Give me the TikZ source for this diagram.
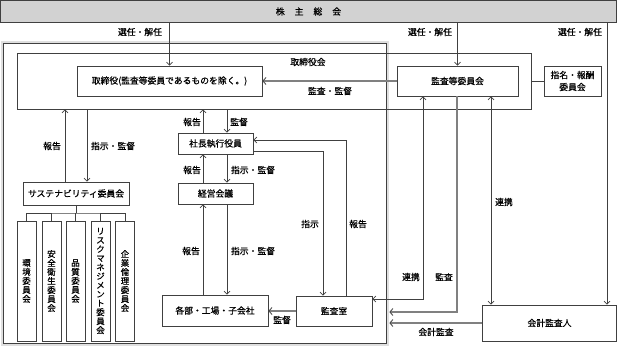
\documentclass[tikz,border=0pt]{standalone}
\usepackage{fontspec}
\setmainfont{Noto Sans CJK JP}[FakeBold=0.6]
\usetikzlibrary{arrows.meta,calc}
\definecolor{linec}{HTML}{404040}
\newcommand\jpf{\fontsize{8.8}{10}\selectfont}
\begin{document}
\begin{tikzpicture}[x=1pt,y=-1pt,
  box/.style={draw=linec, line width=0.8pt, inner sep=0pt, font=\jpf, fill=white},
  vbox/.style={box, minimum width=19pt, minimum height=120pt, text width=10pt, align=center, font=\fontsize{8.5}{9}\selectfont},
  ln/.style={draw=linec, line width=0.7pt},
  arr/.style={ln, -{Straight Barb[length=3pt,width=6pt]}},
  darr/.style={ln, {Straight Barb[length=3pt,width=6pt]}-{Straight Barb[length=3pt,width=6pt]}},
  thk/.style={draw=black!50, line width=2.2pt},
  tarr/.style={thk, -{Straight Barb[length=3pt,width=7pt,line width=0.9pt,color=black!70]}},
  lab/.style={font=\jpf, inner sep=0pt}
]
\useasboundingbox (0,0) rectangle (617,347);

% company double frame
\node[draw=linec, double=gray!25, double distance=1.6pt, line width=0.7pt, minimum width=385.6pt, minimum height=302.6pt, inner sep=0pt] (co) at (195,193.5) {};

% shareholders' meeting
\node[box, fill=gray!35, minimum width=616pt, minimum height=22pt] (sh) at (308.5,11.5) {株\hspace{10pt}主\hspace{10pt}総\hspace{10pt}会};

% board
\node[box, fill=none, minimum width=514pt, minimum height=56pt] (bod) at (274,81) {};
\node[lab] (bodl) at (308,62) {取締役会};
\node[box, minimum width=185pt, minimum height=30pt] (dir) at (169.5,81) {取締役(監査等委員であるものを除く。)};
\node[box, minimum width=121pt, minimum height=30pt] (ac) at (457.5,81) {監査等委員会};
\node[box, minimum width=57pt, minimum height=30pt, align=center, font=\fontsize{8.8}{12}\selectfont] (nom) at (572.5,81) {指名・報酬\\委員会};

% sustainability
\node[box, minimum width=106pt, minimum height=23pt] (sus) at (76,193.5) {サステナビリティ委員会};
\node[vbox] (c1) at (26.5,281) {環\\境\\委\\員\\会};
\node[vbox] (c2) at (51.5,281) {安\\全\\衛\\生\\委\\員\\会};
\node[vbox] (c3) at (75.5,281) {品\\質\\委\\員\\会};
\node[vbox] (c4) at (100.5,281) {リ\\ス\\ク\\マ\\ネ\\ジ\\メ\\ン\\ト\\委\\員\\会};
\node[vbox] (c5) at (125,281) {企\\業\\倫\\理\\委\\員\\会};

% executive line
\node[box, minimum width=75pt, minimum height=21pt] (ceo) at (215.5,143.5) {社長執行役員};
\node[box, minimum width=75pt, minimum height=21pt] (mgm) at (215.5,193.5) {経営会議};
\node[box, minimum width=106pt, minimum height=31pt] (dept) at (215,310.5) {各部・工場・子会社};
\node[box, minimum width=76pt, minimum height=30pt] (iad) at (334,311) {監査室};
\node[box, minimum width=134pt, minimum height=36pt] (aud) at (549.5,323) {会計監査人};

% coordinates for vertical runs
\coordinate (xr) at (607,0);
\coordinate (xa) at (65,0);
\coordinate (xb) at (87,0);
\coordinate (tr) at (76,213);
\coordinate (xu) at (203,0);
\coordinate (xd) at (227,0);
\coordinate (p1) at (323,151);
\coordinate (p2) at (346,140);
\coordinate (p3) at (423,299);
\coordinate (p4) at (457,312);
\coordinate (xc) at (491,0);

% connectors
\draw[arr] (sh.south -| dir.north) -- (dir.north);
\draw[arr] (sh.south -| ac.north) -- (ac.north);
\draw[arr] (sh.south -| xr) -- (aud.north -| xr);
\draw[tarr] (ac.west) -- (dir.east);
\draw[ln] (bod.east) -- (nom.west);

\draw[arr] (sus.north -| xa) -- (bod.south -| xa);
\draw[arr] (bod.south -| xb) -- (sus.north -| xb);
\draw[ln] (sus.south) -- (sus.south |- tr);
\draw[ln] (c1.north) |- (tr) -| (c5.north);
\foreach \c in {c2,c3,c4} \draw[ln] (\c.north) -- (\c.north |- tr);

\draw[arr] (ceo.north -| xu) -- (bod.south -| xu);
\draw[arr] (bod.south -| xd) -- (ceo.north -| xd);
\draw[arr] (mgm.north -| xu) -- (ceo.south -| xu);
\draw[arr] (ceo.south -| xd) -- (mgm.north -| xd);
\draw[arr] (dept.north -| xu) -- (mgm.south -| xu);
\draw[arr] (mgm.south -| xd) -- (dept.north -| xd);
\draw[tarr] (iad.west) -- (iad.west -| dept.east);

\draw[arr] (p1 -| ceo.east) -- (p1) -- (iad.north -| p1);
\draw[arr] (iad.north -| p2) -- (p2) -- (p2 -| ceo.east);

\draw[darr] (ac.south -| p3) -- (p3) -- (p3 -| iad.east);
\draw[tarr] (ac.south -| p4) -- (p4) -- ([xshift=1.2pt]p4 -| co.east);
\draw[darr] (ac.south -| xc) -- (aud.north -| xc);
\draw[tarr] (aud.west) -- ([xshift=1.2pt]aud.west -| co.east);

% labels
\node[lab] (l1) at (140,32) {選任・解任};
\node[lab] (l2) at (430,32) {選任・解任};
\node[lab] (l3) at (580,32) {選任・解任};
\node[lab] (l4) at (330,91) {監査・監督};
\node[lab] (l5) at (52,146) {報告};
\node[lab] (l6) at (113,146) {指示・監督};
\node[lab] (l7) at (192,122) {報告};
\node[lab] (l8) at (239,122) {監督};
\node[lab] (l9) at (192,170) {報告};
\node[lab] (l10) at (253,170) {指示・監督};
\node[lab] (l11) at (191,251) {報告};
\node[lab] (l12) at (253,251) {指示・監督};
\node[lab] (l13) at (282,320) {監督};
\node[lab] (l14) at (310,224) {指示};
\node[lab] (l15) at (358,224) {報告};
\node[lab] (l16) at (411,277) {連携};
\node[lab] (l17) at (444,277) {監査};
\node[lab] (l18) at (504,202) {連携};
\node[lab] (l19) at (436,332) {会計監査};
\end{tikzpicture}
\end{document}
